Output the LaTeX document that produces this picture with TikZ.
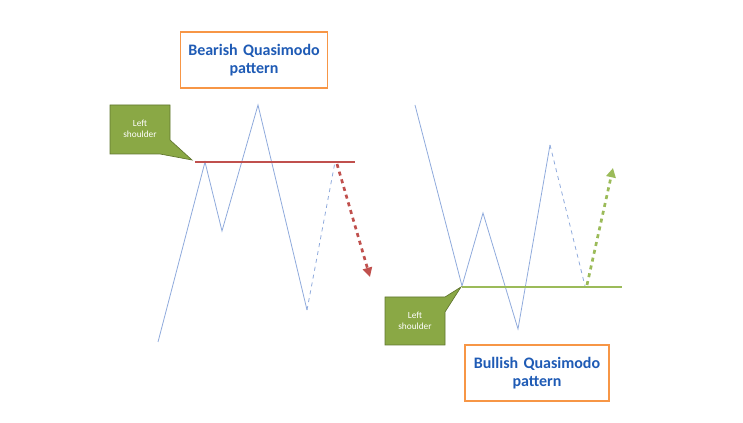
\documentclass[tikz,border=0pt]{standalone}
\usepackage{fontspec}
\setmainfont{Carlito}
\usetikzlibrary{arrows.meta}
\definecolor{priceblue}{HTML}{8FAADC}
\definecolor{bearred}{HTML}{C0504D}
\definecolor{bullgreen}{HTML}{9BBB59}
\definecolor{calloutgreen}{HTML}{8AA845}
\definecolor{titleblue}{HTML}{1F5BB5}
\definecolor{titleorange}{HTML}{F79646}
\tikzset{
  price/.style={priceblue, line width=0.6pt},
  titlebox/.style={draw=titleorange, line width=1pt, fill=white, minimum width=146pt*0.75/0.75, text width=100pt, align=center, font=\bfseries\large, text=titleblue},
  callout/.style={fill=calloutgreen, draw=calloutgreen!70!black, line width=0.5pt}
}
\begin{document}
\begin{tikzpicture}[x=0.75pt, y=-0.75pt]
  \useasboundingbox (0,0) rectangle (743,423);

  % bearish side
  \coordinate (a0) at (158,342);
  \coordinate (a1) at (205,162);
  \coordinate (a2) at (222,231);
  \coordinate (a3) at (258,105);
  \coordinate (a4) at (307,310);
  \coordinate (a5) at (335,162);
  \draw [price] (a0) -- (a1) -- (a2) -- (a3) -- (a4);
  \draw [price, dashed] (a4) -- (a5);
  \coordinate (ra) at (195,162);
  \coordinate (rb) at (355,162);
  \draw [bearred, line width=2pt] (ra) -- (rb);
  \coordinate (rs) at (337,164);
  \coordinate (re) at (370,277);
  \draw [bearred, line width=2pt, dashed, -{Triangle[length=7pt,width=7pt]}] (rs) -- (re);

  \node [titlebox, minimum width=110pt, minimum height=42pt] (bear) at (254,60) {Bearish Quasimodo\\pattern};

  \draw [callout] (110,105) -- (170,105) -- (170,140) -- (192,160) -- (160,154) -- (110,154) -- cycle;
  \node [text=white, font=\scriptsize, align=center] (ls1) at (140,129) {Left\\shoulder};

  % bullish side
  \coordinate (b0) at (415,105);
  \coordinate (b1) at (462,286);
  \coordinate (b2) at (483,213);
  \coordinate (b3) at (518,329);
  \coordinate (b4) at (550,145);
  \coordinate (b5) at (585,286);
  \draw [price] (b0) -- (b1) -- (b2) -- (b3) -- (b4);
  \draw [price, dashed] (b4) -- (b5);
  \coordinate (ga) at (462,287);
  \coordinate (gb) at (622,287);
  \draw [bullgreen, line width=2pt] (ga) -- (gb);
  \coordinate (gs) at (587,285);
  \coordinate (ge) at (613,168);
  \draw [bullgreen, line width=2pt, dashed, -{Triangle[length=7pt,width=7pt]}] (gs) -- (ge);

  \node [titlebox, minimum width=108pt, minimum height=42pt] (bull) at (537,373) {Bullish Quasimodo\\pattern};

  \draw [callout] (385,297) -- (445,297) -- (461,287) -- (445,312) -- (445,345) -- (385,345) -- cycle;
  \node [text=white, font=\scriptsize, align=center] (ls2) at (415,321) {Left\\shoulder};
\end{tikzpicture}
\end{document}
